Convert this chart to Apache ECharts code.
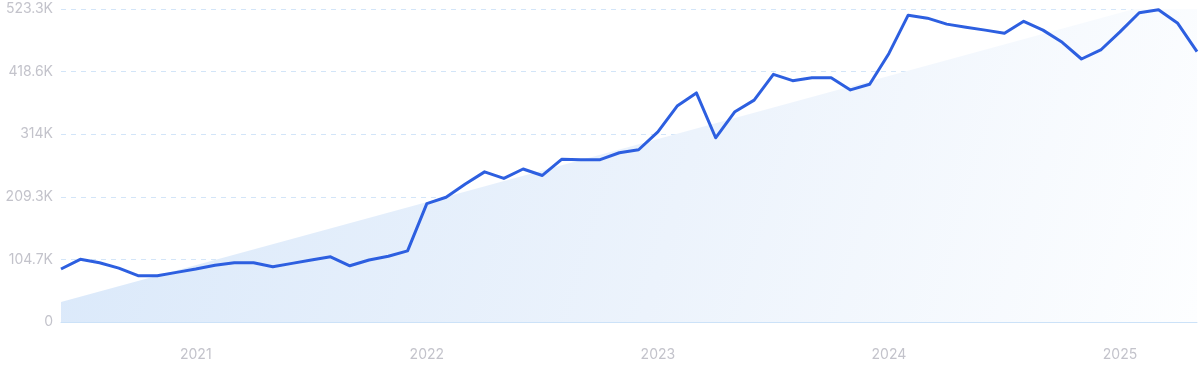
<!DOCTYPE html>
<html>
<head>
<meta charset="utf-8">
<script src="https://cdn.jsdelivr.net/npm/echarts@6/dist/echarts.min.js"></script>
<style>
html,body{margin:0;padding:0;background:#fff;}
#chart{width:1200px;height:371px;}
</style>
</head>
<body>
<div id="chart"></div>
<script>
// Months: June 2020 .. May 2025
const months = [
  "2020-06","2020-07","2020-08","2020-09","2020-10","2020-11","2020-12",
  "2021-01","2021-02","2021-03","2021-04","2021-05","2021-06","2021-07","2021-08","2021-09","2021-10","2021-11","2021-12",
  "2022-01","2022-02","2022-03","2022-04","2022-05","2022-06","2022-07","2022-08","2022-09","2022-10","2022-11","2022-12",
  "2023-01","2023-02","2023-03","2023-04","2023-05","2023-06","2023-07","2023-08","2023-09","2023-10","2023-11","2023-12",
  "2024-01","2024-02","2024-03","2024-04","2024-05","2024-06","2024-07","2024-08","2024-09","2024-10","2024-11","2024-12",
  "2025-01","2025-02","2025-03","2025-04","2025-05"
];
const values = [
  88600,104800,99000,90000,77400,77400,83000,
  88600,95000,99000,99000,92500,98000,103700,109000,94000,103700,110000,119000,
  198000,208500,230700,251000,240000,255800,245000,272000,271400,271400,283000,288000,
  318000,361000,383000,308000,351600,371000,414000,403500,408500,408500,388000,397400,
  449000,513000,508000,498000,492700,488000,482600,502700,488000,467600,439700,454800,
  485000,517000,522000,499400,452000
];
const trendStart = 33400;
const trendEnd = 552000;
const yTicks = [0, 104660, 209320, 313980, 418640, 523300];
const yLabels = ["0", "104.7K", "209.3K", "314K", "418.6K", "523.3K"];

const chart = echarts.init(document.getElementById('chart'), null, {renderer: 'canvas'});
const labelFont = 'Inter, "Noto Sans", sans-serif';
chart.setOption({
  animation: false,
  grid: {left: 61, right: 3, top: 9, bottom: 49, containLabel: false},
  xAxis: {
    type: 'category',
    data: months,
    boundaryGap: false,
    axisLine: {show: true, lineStyle: {color: '#cce2f8', width: 1}},
    axisTick: {show: false},
    axisLabel: {
      interval: function (idx, val) { return val.slice(5) === '01'; },
      formatter: function (val) { return val.slice(0, 4); },
      color: '#c3c3cb',
      fontSize: 14,
      fontFamily: labelFont,
      margin: 26
    },
    splitLine: {show: false}
  },
  yAxis: {
    type: 'value',
    min: yTicks[0],
    max: yTicks[yTicks.length - 1],
    interval: yTicks[1] - yTicks[0],
    axisLine: {show: false},
    axisTick: {show: false},
    axisLabel: {
      color: '#c3c3cb',
      fontSize: 14,
      fontFamily: labelFont,
      margin: 8,
      formatter: function (v) {
        let best = 0, bd = Infinity;
        yTicks.forEach(function (t, i) { const d = Math.abs(t - v); if (d < bd) { bd = d; best = i; } });
        return yLabels[best];
      }
    },
    splitLine: {show: true, lineStyle: {color: '#d3e5f8', type: [5, 5], width: 1}}
  },
  series: [
    {
      type: 'line',
      data: [[months[0], trendStart], [months[months.length - 1], trendEnd]],
      symbol: 'none',
      lineStyle: {width: 0, opacity: 0},
      areaStyle: {
        opacity: 1,
        color: new echarts.graphic.LinearGradient(0, 0, 1, 1, [
          {offset: 0, color: '#d9e8fa'},
          {offset: 0.55, color: '#ecf3fc'},
          {offset: 1, color: '#fdfeff'}
        ])
      },
      silent: true,
      z: 1
    },
    {
      type: 'line',
      data: values,
      symbol: 'none',
      smooth: false,
      lineStyle: {color: '#2d5fe0', width: 3, join: 'round'},
      z: 3
    }
  ]
});
</script>
</body>
</html>
